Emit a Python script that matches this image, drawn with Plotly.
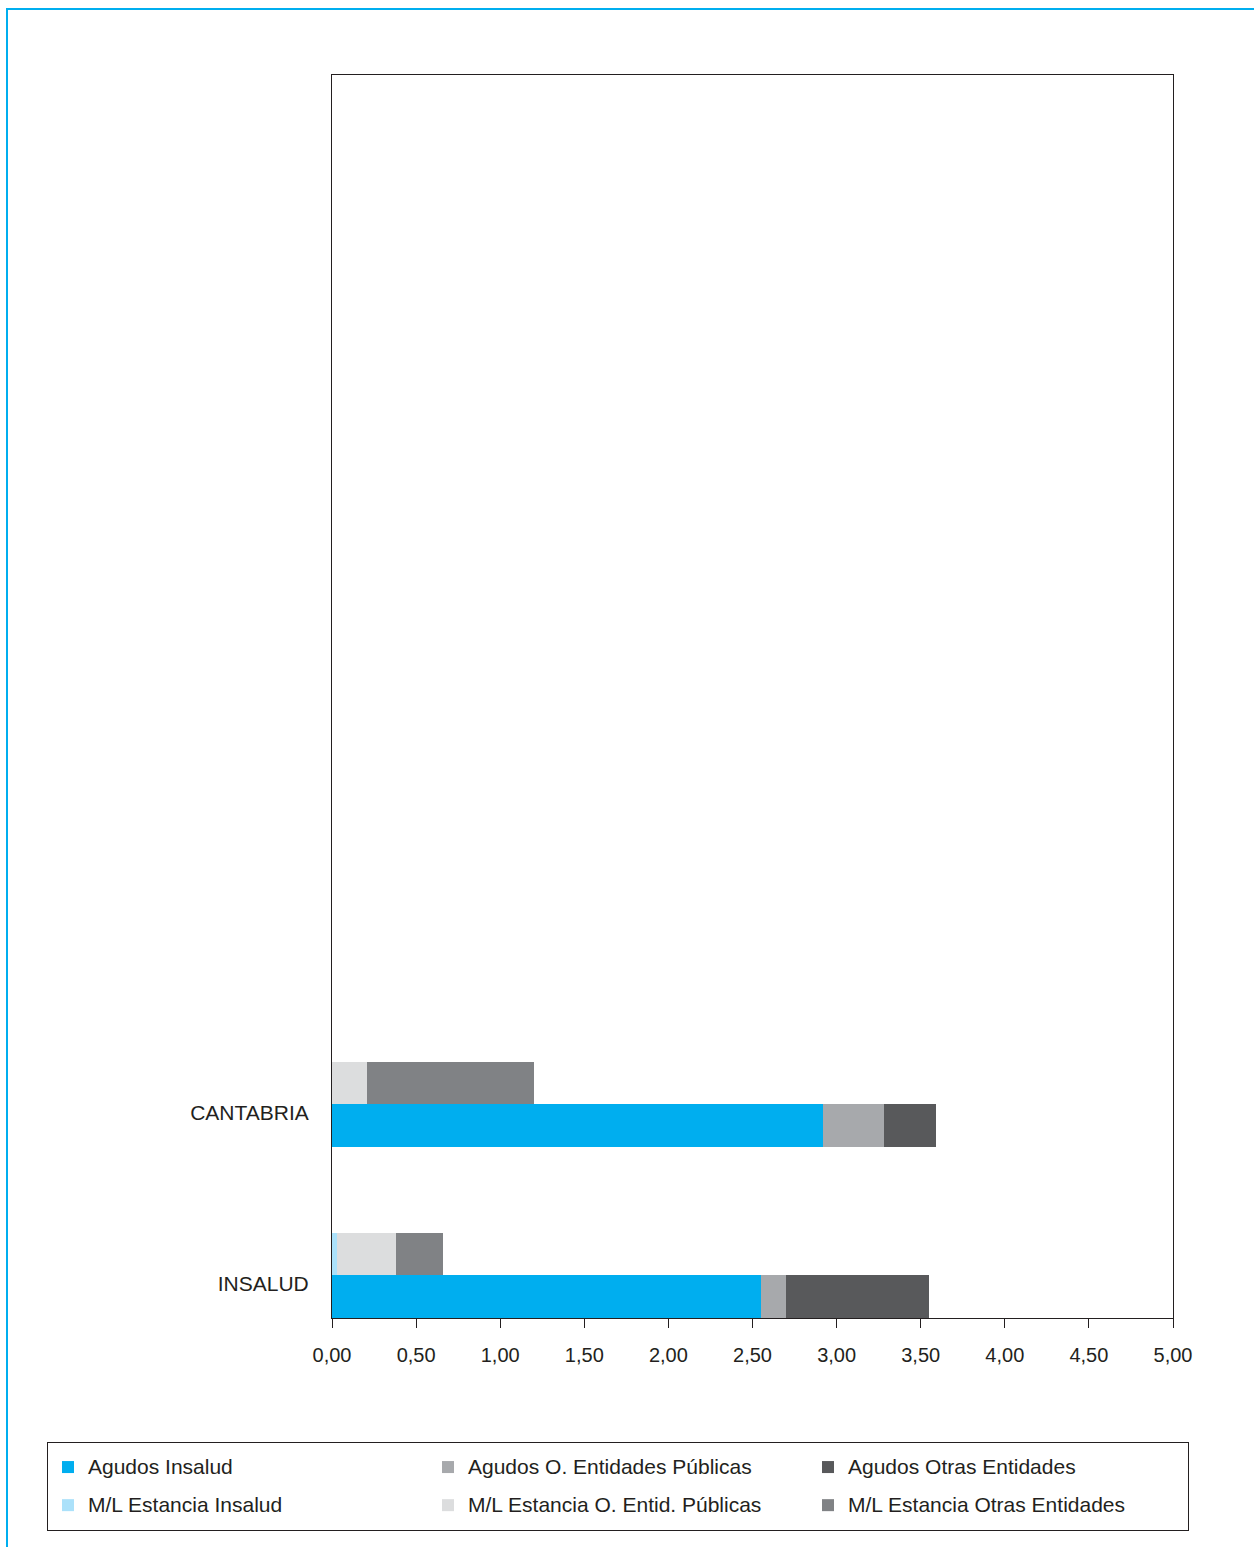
import plotly.graph_objects as go

categories = ["INSALUD", "CANTABRIA"]
agudos_series = ["Agudos Insalud", "Agudos O. Entidades Públicas", "Agudos Otras Entidades"]
ml_series = ["M/L Estancia Insalud", "M/L Estancia O. Entid. Públicas", "M/L Estancia Otras Entidades"]

agudos_insalud = [2.55, 2.92]
agudos_oep = [0.15, 0.36]
agudos_otras = [0.85, 0.31]
ml_insalud = [0.03, 0.0]
ml_oep = [0.35, 0.21]
ml_otras = [0.28, 0.99]

x_ticks = [0, 0.5, 1, 1.5, 2, 2.5, 3, 3.5, 4, 4.5, 5]

colors_agudos = ["#00AEEF", "#A7A9AC", "#58595B"]
colors_ml = ["#ABE1FA", "#DCDDDE", "#808285"]

idx = list(range(len(categories)))
y_agudos = [i - 0.125 for i in idx]
y_ml = [i + 0.125 for i in idx]


def label(s):
    return "<span style='font-size:21px;baseline-shift:4px'>" + s + "</span>"


fig = go.Figure()
for name, vals, col in zip(agudos_series, [agudos_insalud, agudos_oep, agudos_otras], colors_agudos):
    fig.add_trace(go.Bar(x=vals, y=y_agudos, orientation="h", name=label(name), width=0.25,
                         marker=dict(color=col, line=dict(width=0))))
for name, vals, col in zip(ml_series, [ml_insalud, ml_oep, ml_otras], colors_ml):
    fig.add_trace(go.Bar(x=vals, y=y_ml, orientation="h", name=label(name), width=0.25,
                         marker=dict(color=col, line=dict(width=0))))

fig.update_layout(
    width=1254, height=1547,
    margin=dict(l=332, r=81, t=75, b=229),
    barmode="stack",
    separators=",.",
    paper_bgcolor="white", plot_bgcolor="white",
    font=dict(family="Liberation Sans, Arial, sans-serif", size=20, color="#231F20"),
    showlegend=True,
    legend=dict(
        orientation="h", traceorder="normal",
        x=(47 - 332) / 841, y=(1318 - 1442) / 1243, xanchor="left", yanchor="top",
        itemwidth=30,
        entrywidth=335, entrywidthmode="pixels",
        bordercolor="#231F20", borderwidth=1,
        font=dict(size=27, color="#231F20"),
    ),
    xaxis=dict(
        range=[0, 5], tickvals=x_ticks, tickformat=".2f",
        showgrid=False, zeroline=False,
        showline=True, mirror=True, linecolor="#231F20", linewidth=1,
        ticks="outside", ticklen=9, tickcolor="#231F20", ticklabelstandoff=10,
    ),
    yaxis=dict(
        range=[-0.25, 7.02], tickvals=[i - 0.05 for i in idx], ticktext=categories,
        tickfont=dict(size=21),
        showgrid=False, zeroline=False,
        showline=True, mirror=True, linecolor="#231F20", linewidth=1,
        ticks="", ticklabelstandoff=18,
    ),
    shapes=[dict(type="rect", xref="paper", yref="paper",
                 x0=(7 - 332) / 841, x1=1.2, y0=-0.3, y1=(1318 - 9) / 1243,
                 line=dict(color="#00AEEF", width=2), fillcolor="rgba(0,0,0,0)", layer="below")],
)

fig.write_html("out.html", config={"displayModeBar": False},
               post_script="document.body.style.margin='0';document.body.style.overflow='hidden';")
